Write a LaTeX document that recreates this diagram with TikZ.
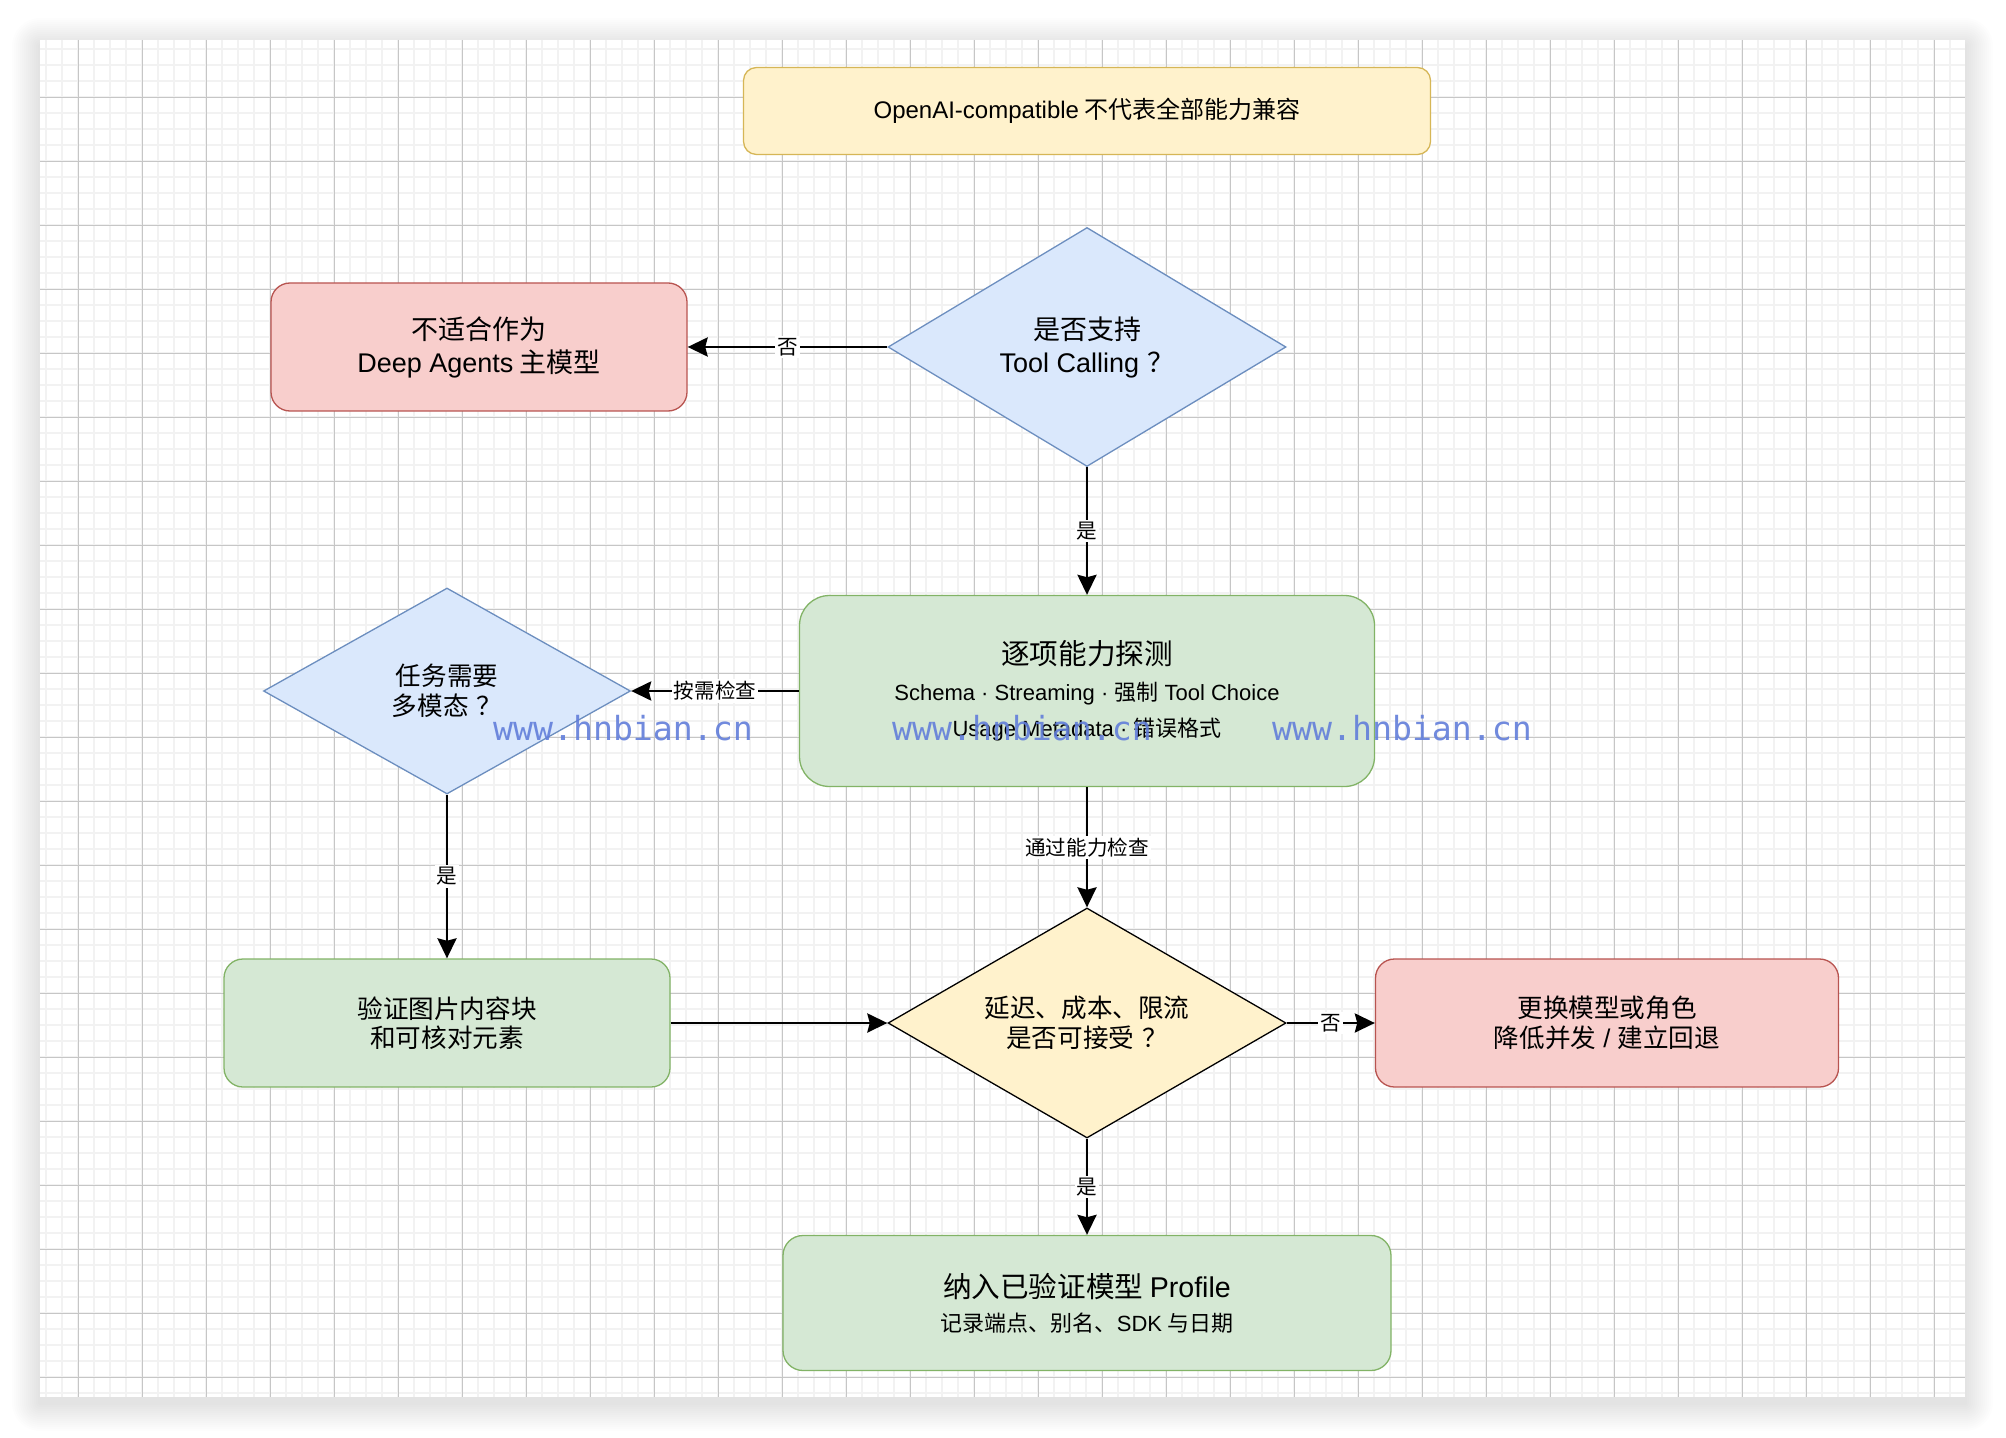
\documentclass[tikz,border=0pt]{standalone}
\usepackage{fontspec}
\setmainfont{Noto Sans CJK SC}
\newfontfamily\lat{Liberation Sans}
\newfontfamily\wmfont{DejaVu Sans Mono}
\usepackage{tikz}
\usetikzlibrary{arrows.meta, positioning, shapes.geometric}

\definecolor{yelfill}{HTML}{FFF2CC}
\definecolor{yeldraw}{HTML}{D6B656}
\definecolor{redfill}{HTML}{F8CECC}
\definecolor{reddraw}{HTML}{B85450}
\definecolor{bluefill}{HTML}{DAE8FC}
\definecolor{bluedraw}{HTML}{6C8EBF}
\definecolor{grnfill}{HTML}{D5E8D4}
\definecolor{grndraw}{HTML}{82B366}
\definecolor{wmblue}{RGB}{98,126,218}

\tikzstyle{note}     = [rectangle, rounded corners=6.5pt, minimum width=343.5pt, minimum height=43.5pt, text centered, draw=yeldraw, fill=yelfill, line width=0.65pt, font=\fontsize{12}{14}\selectfont]
\tikzstyle{reject}   = [rectangle, rounded corners=9.5pt, minimum height=64pt, align=center, draw=reddraw, fill=redfill, line width=0.65pt, font=\fontsize{12.8}{14.8}\selectfont]
\tikzstyle{process}  = [rectangle, rounded corners=9.5pt, minimum height=64pt, align=center, draw=grndraw, fill=grnfill, line width=0.65pt, font=\fontsize{12.8}{14.8}\selectfont]
\tikzstyle{decision} = [diamond, align=center, inner sep=1pt, draw=bluedraw, fill=bluefill, line width=0.65pt, font=\fontsize{12.8}{14.8}\selectfont]
\tikzstyle{gate}     = [diamond, align=center, inner sep=1pt, draw=black, fill=yelfill, line width=0.65pt, font=\fontsize{12.8}{14.8}\selectfont]
\tikzstyle{arrow}    = [line width=1.4pt, -{Stealth[length=10pt, width=9.5pt, inset=1.2pt]}]
\tikzstyle{lbl}      = [fill=white, inner sep=1pt, font=\fontsize{10.3}{12}\selectfont]
\tikzstyle{watermark} = [text=wmblue, opacity=0.9, inner sep=0pt, font=\wmfont\fontsize{16.6}{18}\selectfont]
\newcommand{\qmark}{\hspace{0.3em}？}

\begin{document}
\begin{tikzpicture}[x=0.5pt, y=-0.5pt, node distance=166pt]
\useasboundingbox (0,0) rectangle (2006,1438);
\fill[white] (0,0) rectangle (2006,1438);

% panel with soft shadow and grid
\foreach \s in {1,...,14}
  \fill[black, opacity=0.009, rounded corners=\s pt] (40-2*\s,40-2*\s+6) rectangle (1965+2*\s,1397+2*\s+6);
\fill[white] (40,40) rectangle (1965,1397);
\foreach \x in {46.3,62.3,...,1965}
  \draw[gray!10, line width=1pt] (\x,40) -- (\x,1397);
\foreach \y in {49.3,65.3,...,1397}
  \draw[gray!10, line width=1pt] (40,\y) -- (1965,\y);
\foreach \x in {78.3,142.3,...,1965}
  \draw[gray!45, line width=0.5pt] (\x,40) -- (\x,1397);
\foreach \y in {97.3,161.3,...,1397}
  \draw[gray!45, line width=0.5pt] (40,\y) -- (1965,\y);

\node (compat) [note] at (1087,111) {{\lat OpenAI-compatible} 不代表全部能力兼容};
\node (toolq) [decision, below of=compat, yshift=48pt, aspect=1.67, minimum width=199pt, minimum height=119.5pt, font=\fontsize{13.5}{16.5}\selectfont] {是否支持\\{\lat Tool Calling}\qmark};
\node (unfit) [reject, left of=toolq, xshift=-138pt, minimum width=208pt, font=\fontsize{13.5}{16.5}\selectfont] {不适合作为\\{\lat Deep Agents} 主模型};
\node (probe) [process, below of=toolq, yshift=-6pt, minimum width=287.5pt, minimum height=95.5pt, rounded corners=15pt, font=\lat\fontsize{11}{18}\selectfont] {{\normalfont\fontsize{14.3}{18}\selectfont 逐项能力探测}\\Schema · Streaming · {\normalfont 强制} Tool Choice\\Usage Metadata · {\normalfont 错误格式}};
\node (multi) [decision, left of=probe, xshift=-154pt, aspect=1.78, minimum width=183.5pt, minimum height=103pt] {任务需要\\多模态\qmark};
\node (image) [process, below of=multi, minimum width=223pt] {验证图片内容块\\和可核对元素};
\node (cost) [gate, below of=probe, aspect=1.73, minimum width=199pt, minimum height=115pt] {延迟、成本、限流\\是否可接受\qmark};
\node (swap) [reject, right of=cost, xshift=94pt, minimum width=231.5pt] {更换模型或角色\\降低并发{\lat\ /\ }建立回退};
\node (profile) [process, below of=cost, yshift=26pt, minimum width=304pt, minimum height=67.5pt, rounded corners=10pt, font=\fontsize{11}{17}\selectfont] {{\fontsize{14.3}{17}\selectfont 纳入已验证模型 {\lat Profile}}\\记录端点、别名、{\lat SDK} 与日期};

\draw [arrow] (toolq.west) -- (unfit.east) node[midway, lbl]{否};
\draw [arrow] (toolq.south) -- (probe.north) node[midway, lbl]{是};
\draw [arrow] (probe.west) -- (multi.east) node[midway, lbl]{按需检查};
\draw [arrow] (multi.south) -- (image.north) node[midway, lbl]{是};
\draw [arrow] (probe.south) -- (cost.north) node[midway, lbl]{通过能力检查};
\draw [arrow] (image.east) -- (cost.west);
\draw [arrow] (cost.east) -- (swap.west) node[midway, lbl]{否};
\draw [arrow] (cost.south) -- (profile.north) node[midway, lbl]{是};

\node (wmleft) [watermark] at (623,728) {www.hnbian.cn};
\node (wmmid) [watermark] at (1022,728) {www.hnbian.cn};
\node (wmright) [watermark] at (1402,728) {www.hnbian.cn};
\end{tikzpicture}
\end{document}
